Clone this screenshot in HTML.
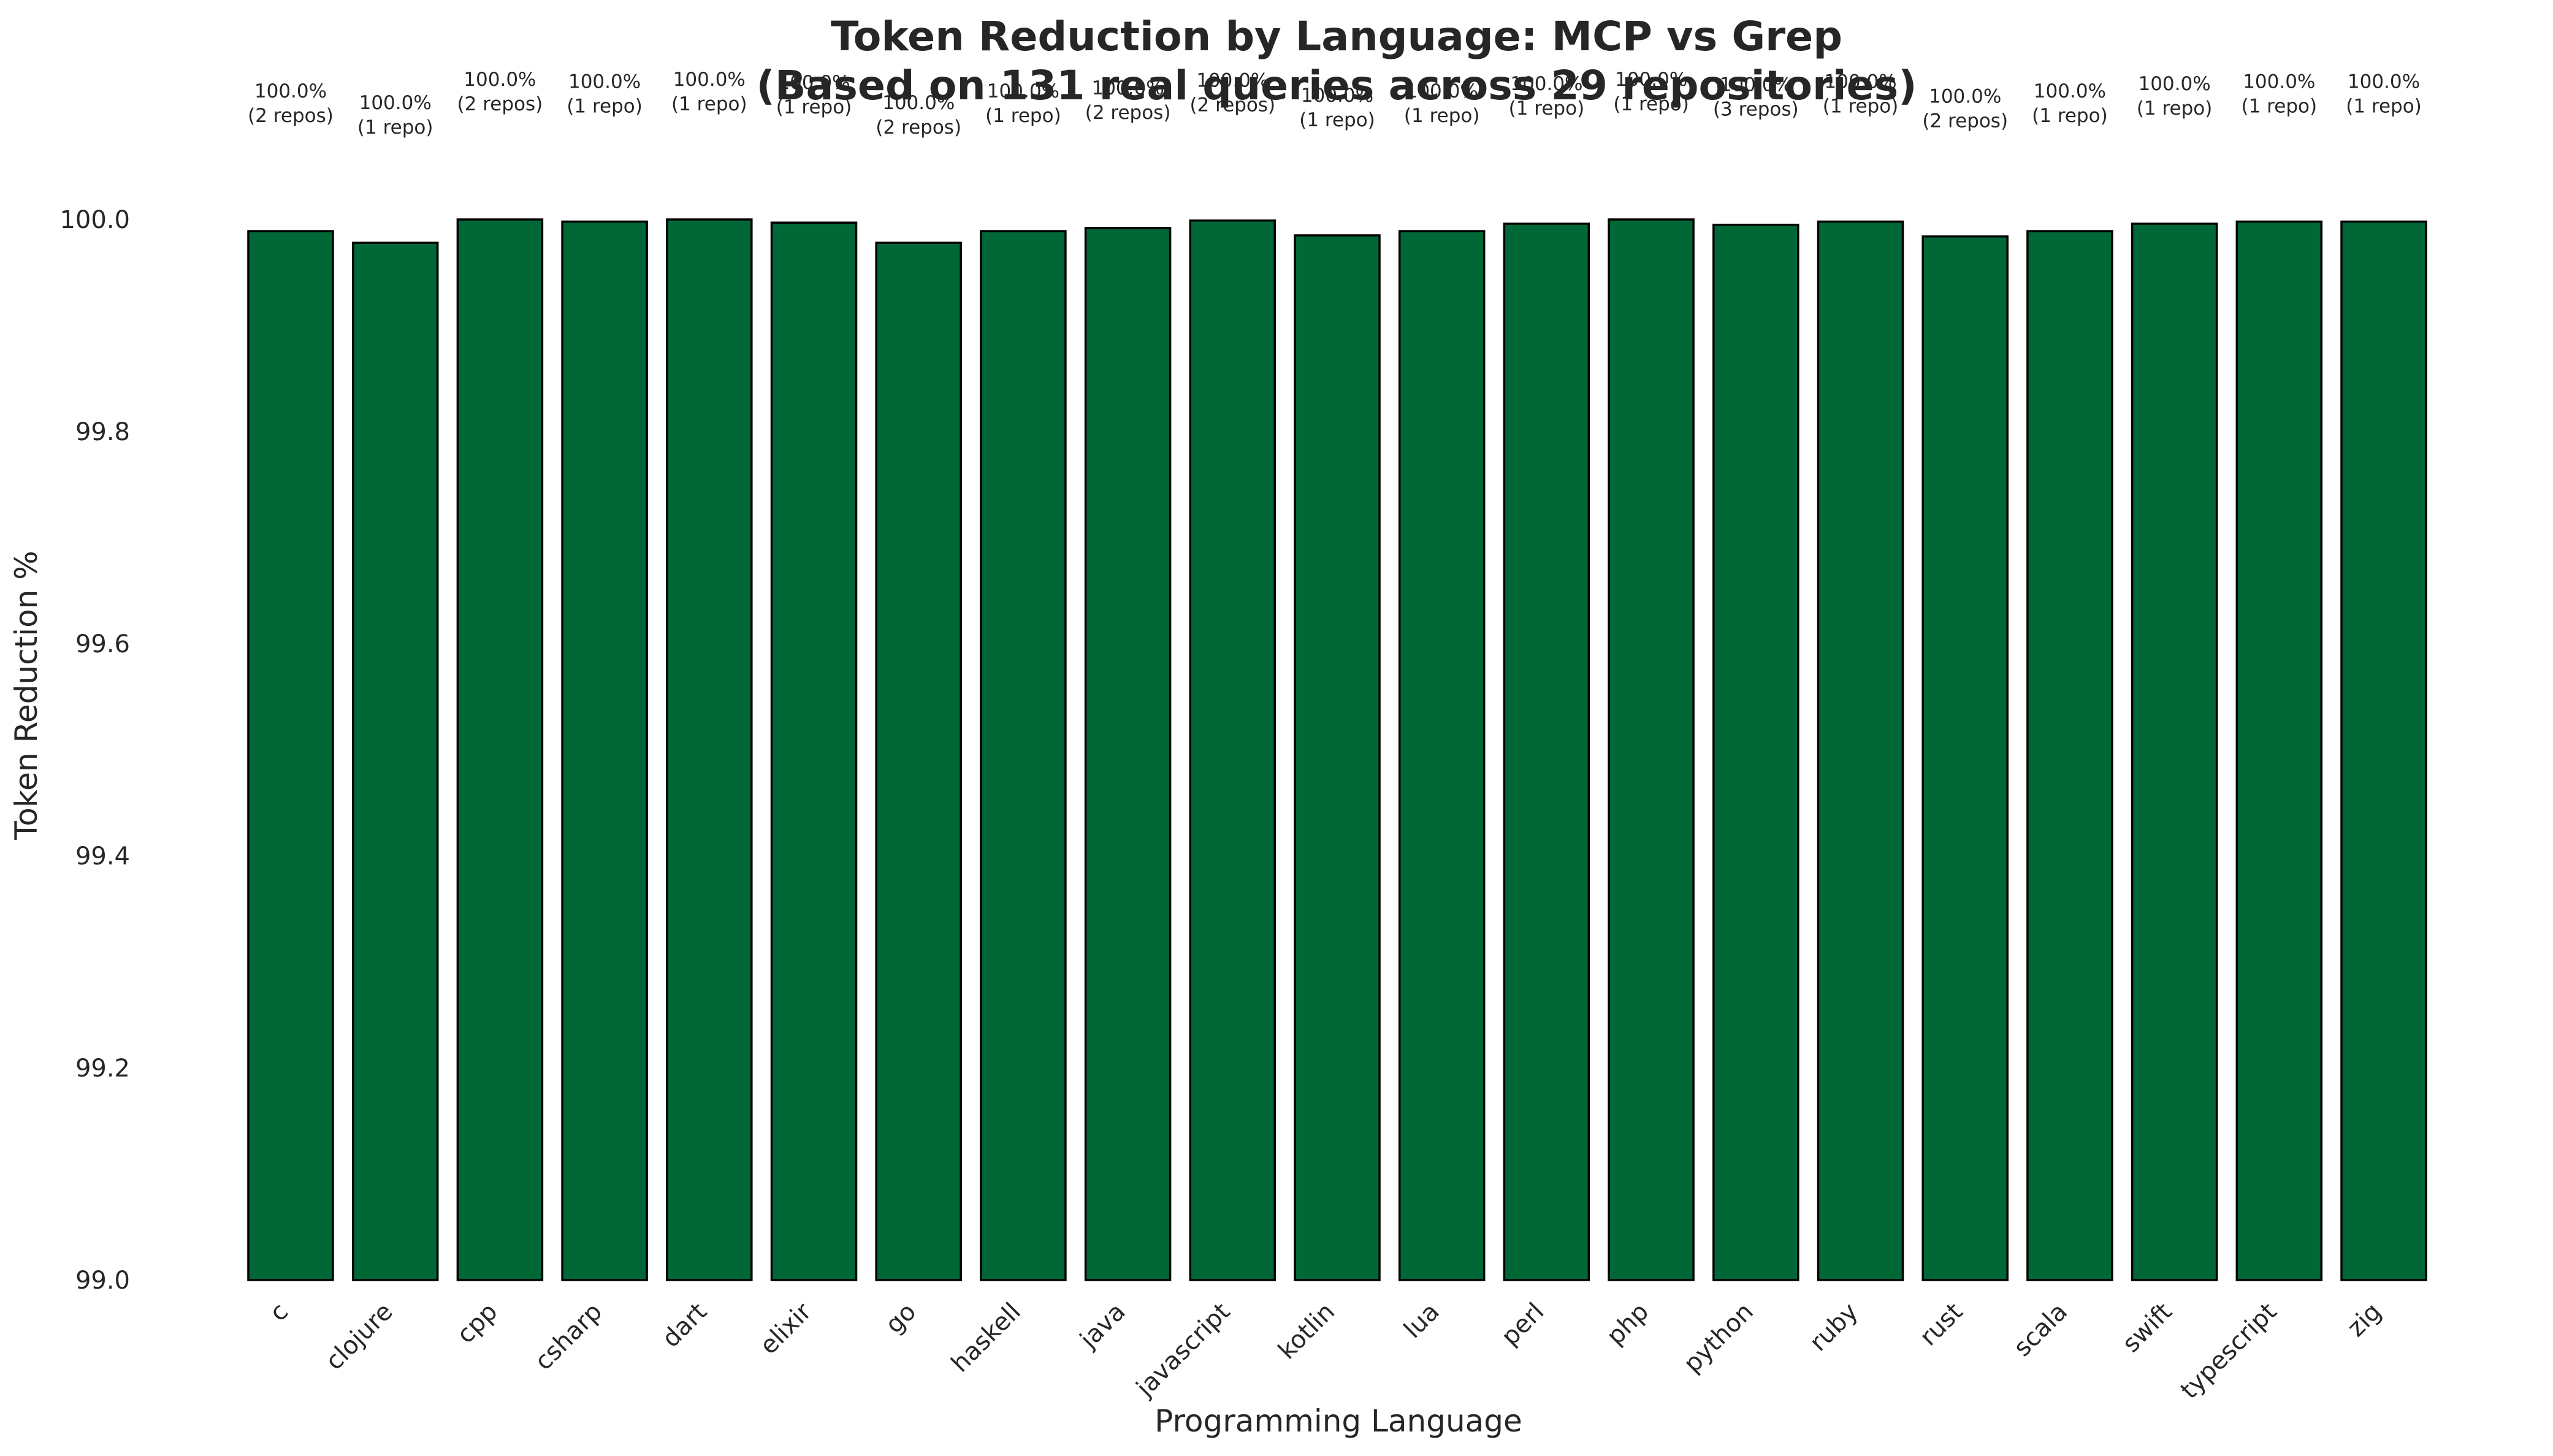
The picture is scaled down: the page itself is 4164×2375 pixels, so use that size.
<!DOCTYPE html>
<html><head><meta charset="utf-8"><style>
html,body{margin:0;padding:0;background:#fff;}
svg{display:block;font-family:"DejaVu Sans","Liberation Sans",sans-serif;}
</style></head><body>
<svg id="chart" width="4164" height="2375" viewBox="0 0 4164 2375" xmlns="http://www.w3.org/2000/svg">
<rect width="4164" height="2375" fill="#fff"/>
<text x="2180" y="82" text-anchor="middle" font-size="66" font-weight="bold" fill="#262626" textLength="1650" lengthAdjust="spacingAndGlyphs">Token Reduction by Language: MCP vs Grep</text>
<text x="2180" y="162" text-anchor="middle" font-size="66" font-weight="bold" fill="#262626" textLength="1893" lengthAdjust="spacingAndGlyphs">(Based on 131 real queries across 29 repositories)</text>
<g id="bars"></g>
<g id="annots"></g>
<g id="yticks"></g>
<g id="xticks"></g>
<text transform="translate(60,1134) rotate(-90)" text-anchor="middle" font-size="50" fill="#262626">Token Reduction %</text>
<text x="2183" y="2335" text-anchor="middle" font-size="50" fill="#262626">Programming Language</text>
</svg>
<script>
const categories = ["c","clojure","cpp","csharp","dart","elixir","go","haskell","java","javascript","kotlin","lua","perl","php","python","ruby","rust","scala","swift","typescript","zig"];
const values = [99.989,99.978,100.0,99.998,100.0,99.997,99.978,99.989,99.992,99.999,99.985,99.989,99.996,100.0,99.995,99.998,99.984,99.989,99.996,99.998,99.998];
const repoCounts = [2,1,2,1,1,1,2,1,2,2,1,1,1,1,3,1,2,1,1,1,1];
const yTicks = [99.0,99.2,99.4,99.6,99.8,100.0];

const NS = "http://www.w3.org/2000/svg";
const yMin = 99.0, yPix0 = 2088, pxPerUnit = 1730;
function yScale(v){ return yPix0 - (v - yMin) * pxPerUnit; }
const x0 = 474, step = 170.7, barW = 138;
function xScale(i){ return x0 + i * step; }
function mk(tag, attrs, parent, txt){
  const el = document.createElementNS(NS, tag);
  for (const k in attrs) el.setAttribute(k, attrs[k]);
  if (txt !== undefined) el.textContent = txt;
  parent.appendChild(el);
  return el;
}
const gB = document.getElementById('bars');
const gA = document.getElementById('annots');
const gY = document.getElementById('yticks');
const gX = document.getElementById('xticks');

categories.forEach((c, i) => {
  const cx = xScale(i), top = yScale(values[i]);
  const r = mk('rect', {x: cx - barW/2, y: top, width: barW, height: yPix0 - top, fill: '#006837', stroke: '#000', 'stroke-width': 3.5}, gB);
  
  
  const t1 = mk('text', {x: cx, y: top - 218, 'text-anchor': 'middle', 'font-size': 31, fill: '#262626'}, gA, values[i].toFixed(1) + '%');
  
  
  const n = repoCounts[i];
  const t2 = mk('text', {x: cx, y: top - 178, 'text-anchor': 'middle', 'font-size': 31, fill: '#262626'}, gA, '(' + n + (n === 1 ? ' repo)' : ' repos)'));
  
  
  const xt = mk('text', {transform: 'translate(' + (cx - 2) + ',2142) rotate(-45)', 'text-anchor': 'end', 'font-size': 40, fill: '#262626'}, gX, c);
  
  
});
yTicks.forEach(v => {
  const t = mk('text', {x: 212, y: yScale(v) + 14, 'text-anchor': 'end', 'font-size': 40, fill: '#262626'}, gY, v.toFixed(1));
  
  
});
</script>
</body></html>
